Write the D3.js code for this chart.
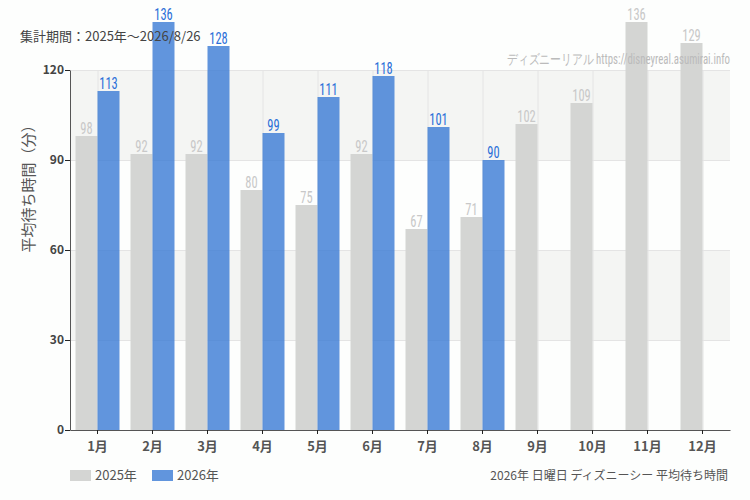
<!DOCTYPE html>
<html lang="ja">
<head>
  <meta charset="utf-8">
  <title>平均待ち時間</title>
  <script src="https://d3js.org/d3.v7.min.js"></script>
  <style>
    body { margin: 0; background: #fdfefd; }
    #chart text { font-family: "Noto Sans CJK JP", "Noto Sans", sans-serif; }
    #chart .val { font-family: "Liberation Sans Narrow", "Roboto Condensed", "DejaVu Sans Condensed", sans-serif; }
  </style>
</head>
<body>
  <div id="chart"></div>
  <script>
    "use strict"
    // dados
    var meses = ["1月", "2月", "3月", "4月", "5月", "6月", "7月", "8月", "9月", "10月", "11月", "12月"];
    var anos = ["2025年", "2026年"];
    var valores2025 = [98, 92, 92, 80, 75, 92, 67, 71, 102, 109, 136, 129];
    var valores2026 = [113, 136, 128, 99, 111, 118, 101, 90, null, null, null, null];
    var ticksY = [0, 30, 60, 90, 120];
    var cores = ["#d4d5d3", "#3a7bd5"];

    var largura = 750, altura = 500;
    var margem = {top: 70, right: 20, bottom: 70, left: 70};
    var larguraVis = largura - margem.left - margem.right,
        alturaVis = altura - margem.top - margem.bottom;

    var svg = d3.select("#chart").append("svg")
      .attr("width", largura)
      .attr("height", altura);
    svg.append("rect").attr("width", largura).attr("height", altura).attr("fill", "#fdfefd");

    var g = svg.append("g").attr("transform", "translate(" + margem.left + "," + margem.top + ")");

    // escalas
    var x = d3.scaleBand().domain(meses).range([0, larguraVis]).paddingInner(0.2).paddingOuter(0.1);
    var xPasso = d3.scaleBand().domain(meses).range([0, larguraVis]);
    var x1 = d3.scaleBand().domain(anos).range([0, x.bandwidth()]);
    var y = d3.scaleLinear().domain([0, 120]).range([alturaVis, 0]);

    // faixas de fundo
    g.selectAll("rect.faixa")
      .data([[90, 120], [30, 60]])
      .enter().append("rect")
        .attr("class", "faixa")
        .attr("x", 0).attr("width", larguraVis)
        .attr("y", d => y(d[1])).attr("height", d => y(d[0]) - y(d[1]))
        .attr("fill", "#f4f5f3");

    // grade
    g.selectAll("line.gy")
      .data(ticksY.slice(1))
      .enter().append("line")
        .attr("x1", 0).attr("x2", larguraVis)
        .attr("y1", d => y(d) + 0.5).attr("y2", d => y(d) + 0.5)
        .attr("stroke", "#e4e4e4");
    g.selectAll("line.gx")
      .data(meses)
      .enter().append("line")
        .attr("x1", d => xPasso(d) + xPasso.bandwidth() / 2 + 0.5)
        .attr("x2", d => xPasso(d) + xPasso.bandwidth() / 2 + 0.5)
        .attr("y1", y(120)).attr("y2", y(0))
        .attr("stroke", "#e4e4e4");

    var series = [valores2025, valores2026];
    series.forEach(function (vals, s) {
      var dados = meses.map((m, i) => ({mes: m, v: vals[i]})).filter(d => d.v != null);
      g.selectAll("rect.s" + s)
        .data(dados)
        .enter().append("rect")
          .attr("class", "s" + s)
          .attr("x", d => x(d.mes) + x1(anos[s]))
          .attr("width", x1.bandwidth())
          .attr("y", d => y(d.v))
          .attr("height", d => alturaVis - y(d.v))
          .attr("fill", cores[s])
          .attr("fill-opacity", s == 1 ? 0.8 : 1);
      // rotulos estreitos (fonte condensada)
      g.selectAll("text.l" + s)
        .data(dados)
        .enter().append("text")
          .attr("class", "val")
          .attr("transform", d => "translate(" + (x(d.mes) + x1(anos[s]) + x1.bandwidth() / 2) + "," + (y(d.v) - 2) + ") scale(0.78,1)")
          .attr("text-anchor", "middle")
          .attr("font-size", 16)
          .attr("fill", s == 1 ? "#2a6fd8" : "#c8c8c8")
          .text(d => d.v);
    });

    // eixos
    var eixoX = g.append("g")
      .attr("transform", "translate(0," + alturaVis + ")")
      .call(d3.axisBottom(xPasso).tickSize(4).tickSizeOuter(0));
    eixoX.select(".domain").attr("stroke", "#555");
    eixoX.selectAll(".tick line").attr("stroke", "#222");
    eixoX.selectAll("text").attr("font-size", 13).attr("font-weight", "bold").attr("fill", "#555").attr("dy", "1.05em");

    var eixoY = g.append("g")
      .call(d3.axisLeft(y).tickValues(ticksY).tickSize(5).tickSizeOuter(0));
    eixoY.select(".domain").attr("stroke", "#555");
    eixoY.selectAll(".tick line").attr("stroke", "#222");
    eixoY.selectAll("text").attr("font-size", 12).attr("font-weight", "bold").attr("fill", "#444").attr("x", -6);

    // titulo do eixo y
    svg.append("text")
      .attr("transform", "translate(34,185) rotate(-90)")
      .attr("text-anchor", "middle")
      .attr("font-size", 15)
      .attr("fill", "#555")
      .text("平均待ち時間（分）");

    svg.append("text")
      .attr("x", 20).attr("y", 41)
      .attr("font-size", 13)
      .attr("fill", "#444")
      .text("集計期間：2025年～2026/8/26");

    svg.append("text")
      .attr("class", "val")
      .attr("x", 730).attr("y", 64)
      .attr("text-anchor", "end")
      .attr("font-size", 14)
      .attr("textLength", 223)
      .attr("lengthAdjust", "spacingAndGlyphs")
      .attr("fill", "#bbb")
      .text("ディズニーリアル https://disneyreal.asumirai.info");

    // legenda
    var leg = svg.selectAll("g.leg")
      .data(anos)
      .enter().append("g")
        .attr("transform", (d, i) => "translate(" + (70 + i * 82) + ",470)");
    leg.append("rect").attr("width", 21).attr("height", 11).attr("fill", (d, i) => cores[i]).attr("fill-opacity", (d, i) => i == 1 ? 0.8 : 1);
    leg.append("text").attr("x", 25).attr("y", 10).attr("font-size", 13).attr("fill", "#555").text(d => d);

    svg.append("text")
      .attr("x", 728).attr("y", 480)
      .attr("text-anchor", "end")
      .attr("font-size", 12)
      .attr("fill", "#555")
      .text("2026年 日曜日 ディズニーシー 平均待ち時間");
  </script>
</body>
</html>
